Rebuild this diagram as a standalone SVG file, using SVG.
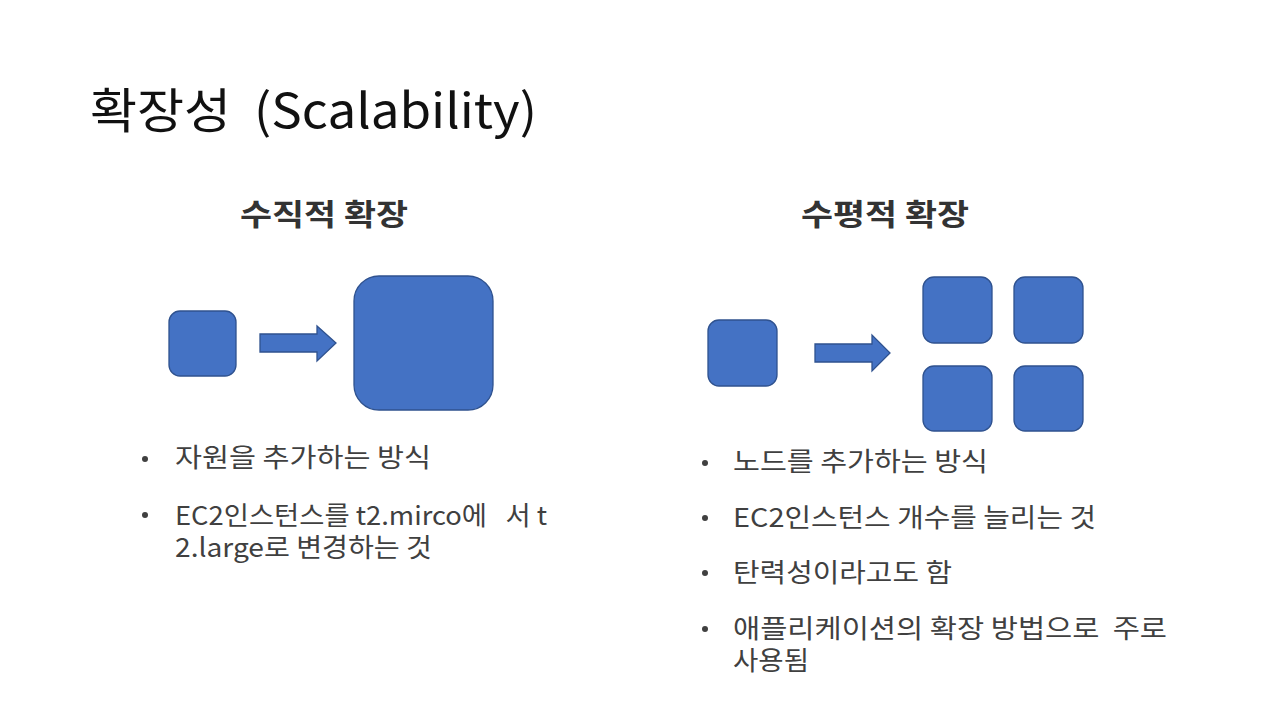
<svg xmlns="http://www.w3.org/2000/svg" width="1280" height="720" viewBox="0 0 1280 720">
<style>
.box{fill:#4472C4;stroke:#2F528F;stroke-width:1.3}
.title{font-family:"Noto Sans CJK KR","Noto Sans",sans-serif;font-size:48px;fill:#111;white-space:pre}
.sub{font-family:"Noto Sans CJK KR","Noto Sans",sans-serif;font-size:30px;font-weight:bold;fill:#333}
.txt{font-family:"Noto Sans CJK KR","Noto Sans",sans-serif;font-size:26px;fill:#404040;white-space:pre}
.dot{fill:#404040}
</style>
<rect width="1280" height="720" fill="#fff"/>
<text class="title" x="90" y="128" textLength="447" lengthAdjust="spacingAndGlyphs">확장성  (Scalability)</text>
<text class="sub" x="240" y="225" textLength="168" lengthAdjust="spacingAndGlyphs">수직적 확장</text>
<text class="sub" x="801" y="225" textLength="168" lengthAdjust="spacingAndGlyphs">수평적 확장</text>
<g id="vertical">
<g id="v-small"><rect class="box" x="169" y="311" width="67" height="65" rx="11"/></g>
<g id="v-large"><rect class="box" x="354" y="276" width="139" height="134" rx="25"/></g>
</g>
<g id="horizontal">
<g id="h-small"><rect class="box" x="708" y="320" width="69" height="66" rx="11"/></g>
<g id="h-1"><rect class="box" x="923" y="277" width="69" height="66" rx="11"/></g>
<g id="h-2"><rect class="box" x="1014" y="277" width="69" height="66" rx="11"/></g>
<g id="h-3"><rect class="box" x="923" y="366" width="69" height="65" rx="11"/></g>
<g id="h-4"><rect class="box" x="1014" y="366" width="69" height="65" rx="11"/></g>
</g>
<g id="connectors">
<path class="box" d="M260,334 H317 V326 L336,343 L317,361 V352 H260 Z"/>
<path class="box" d="M815,344 H872 V335 L890,353 L872,371 V362 H815 Z"/>
</g>
<g id="bullets-left">
<circle class="dot" cx="145" cy="459" r="3"/>
<text class="txt" x="175" y="467" textLength="256" lengthAdjust="spacingAndGlyphs">자원을 추가하는 방식</text>
<circle class="dot" cx="145" cy="515" r="3"/>
<text class="txt" x="175" y="525" textLength="372" lengthAdjust="spacingAndGlyphs">EC2인스턴스를 t2.mirco에   서 t</text>
<text class="txt" x="175" y="557" textLength="257" lengthAdjust="spacingAndGlyphs">2.large로 변경하는 것</text>
</g>
<g id="bullets-right">
<circle class="dot" cx="705" cy="463" r="3"/>
<text class="txt" x="733" y="471" textLength="255" lengthAdjust="spacingAndGlyphs">노드를 추가하는 방식</text>
<circle class="dot" cx="705" cy="518" r="3"/>
<text class="txt" x="733" y="527" textLength="363" lengthAdjust="spacingAndGlyphs">EC2인스턴스 개수를 늘리는 것</text>
<circle class="dot" cx="705" cy="573" r="3"/>
<text class="txt" x="733" y="582" textLength="219" lengthAdjust="spacingAndGlyphs">탄력성이라고도 함</text>
<circle class="dot" cx="705" cy="629" r="3"/>
<text class="txt" x="733" y="638" textLength="434" lengthAdjust="spacingAndGlyphs">애플리케이션의 확장 방법으로  주로</text>
<text class="txt" x="733" y="670" textLength="76" lengthAdjust="spacingAndGlyphs">사용됨</text>
</g>
</svg>
